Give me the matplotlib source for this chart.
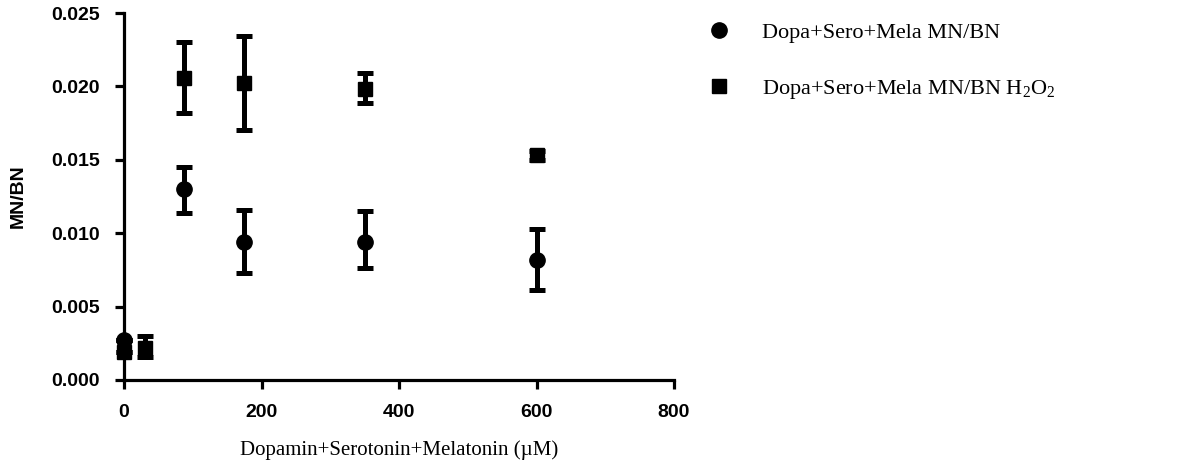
import numpy as np
import matplotlib
matplotlib.use("Agg")
import matplotlib.pyplot as plt
from matplotlib.lines import Line2D

plt.rcParams['mathtext.fontset'] = 'custom'
plt.rcParams['mathtext.rm'] = 'Liberation Serif'
plt.rcParams['mathtext.it'] = 'Liberation Serif'

# dose (uM) and MN/BN means with error bar ends
dose_a = [0, 87.5, 175, 350, 600]
mnbn_a = [0.0027, 0.0130, 0.0094, 0.0094, 0.0082]
lo_a = [0.0027, 0.0114, 0.0073, 0.0076, 0.0061]
hi_a = [0.0027, 0.0145, 0.0116, 0.0115, 0.0103]

dose_b = [0, 31.25, 87.5, 175, 350, 600]
mnbn_b = [0.0019, 0.0022, 0.0206, 0.0202, 0.0198, 0.0153]
lo_b = [0.0019, 0.0016, 0.0182, 0.0170, 0.0189, 0.0150]
hi_b = [0.0019, 0.0030, 0.0230, 0.0234, 0.0209, 0.0156]

labels = ['Dopa+Sero+Mela MN/BN', 'Dopa+Sero+Mela MN/BN H$_2$O$_2$']
xticks = [0, 200, 400, 600, 800]
yticks = [0.000, 0.005, 0.010, 0.015, 0.020, 0.025]

fig = plt.figure(figsize=(11.81, 4.71), dpi=100)
ax = fig.add_axes([124/1181, 1 - 380/471, 550/1181, 367/471])

def err(m, lo, hi):
    m = np.array(m); return [m - np.array(lo), np.array(hi) - m]

for x, y, lo, hi, mk, ms in [(dose_a, mnbn_a, lo_a, hi_a, 'o', 11),
                             (dose_b, mnbn_b, lo_b, hi_b, 's', 10.5)]:
    eb = ax.errorbar(x, y, yerr=err(y, lo, hi), fmt=mk, color='black', ms=ms,
                     elinewidth=3.6, capsize=5.8, capthick=3.6, clip_on=False)
    for a in eb.lines[0:1] + tuple(eb.lines[1]) + tuple(eb.lines[2]):
        a.set_clip_on(False)

ax.set_xlim(0, 800)
ax.set_ylim(0, 0.025)
ax.set_xticks(xticks)
ax.set_yticks(yticks)
ax.set_yticklabels(['%.3f' % v for v in yticks])
for s in ['top', 'right']:
    ax.spines[s].set_visible(False)
for s in ['left', 'bottom']:
    ax.spines[s].set_linewidth(2.3)
ax.tick_params(width=2.3, length=6.5, direction='out', pad=11)
for t in ax.get_xticklabels() + ax.get_yticklabels():
    t.set_fontfamily('Liberation Sans')
    t.set_fontweight('bold')
    t.set_fontsize(14)

ax.set_xlabel('Dopamin+Serotonin+Melatonin (\u00b5M)', fontfamily='Liberation Serif', fontsize=15)
ax.xaxis.set_label_coords(0.5, (380 - 440) / 367)
ax.set_ylabel('MN/BN', fontfamily='Liberation Sans', fontweight='bold', fontsize=14)
ax.yaxis.set_label_coords((27 - 124) / 550, 0.5)

h = [Line2D([], [], ls='none', marker='o', ms=11, color='black'),
     Line2D([], [], ls='none', marker='s', ms=10, color='black')]
fig.legend(h, labels, loc='upper left', bbox_to_anchor=(681/1181, 1 - 2/471), frameon=False,
           prop={'family': 'Liberation Serif', 'size': 16}, labelspacing=1.6,
           handletextpad=1.15, handlelength=1.6)

fig.savefig('out.png', dpi=100)
